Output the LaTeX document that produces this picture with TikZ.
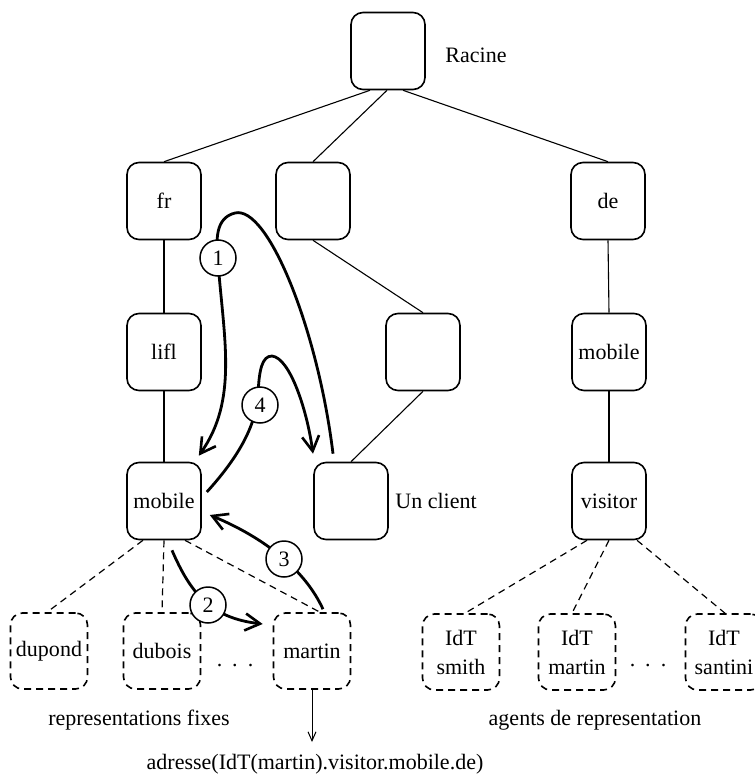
\documentclass[tikz,border=0pt]{standalone}
\usepackage{fontspec}
\setmainfont{Liberation Serif}
\usetikzlibrary{arrows.meta}
\begin{document}
\begin{tikzpicture}[x=1pt,y=-1pt,
  every node/.style={font=\fontsize{22}{29}\selectfont},
  box/.style={draw, line width=1.6pt, rounded corners=12pt, minimum width=74pt,
    minimum height=77pt, inner sep=0pt},
  dbox/.style={box, dash pattern=on 7pt off 5pt, minimum width=77pt,
    minimum height=76pt, align=center},
  edge/.style={line width=1.1pt},
  dedge/.style={line width=1.2pt, dash pattern=on 7pt off 5pt},
  flow/.style={line width=2.8pt,
    -{Straight Barb[length=15pt,width=17pt,line width=2.6pt]}},
  numc/.style={circle, draw, line width=1.5pt, fill=white, minimum size=36pt,
    inner sep=0pt},
  lbl/.style={inner sep=0pt}
]
\useasboundingbox (0,0) rectangle (754,778);

% tree of naming contexts
\node[box] (root) at (388,51) {};
\node[lbl] (racine) at (476,55) {Racine};
\node[box] (fr) at (164,201) {fr};
\node[box] (mid) at (313,201) {};
\node[box] (de) at (608,201) {de};
\node[box] (lifl) at (164,352) {lifl};
\node[box] (rbox) at (423,352) {};
\node[box] (rmob) at (609,352) {mobile};
\node[box] (mob) at (164,501) {mobile};
\node[box] (client) at (351,501) {};
\node[lbl] (clientlbl) at (436,501) {Un client};
\node[box] (visitor) at (609,501) {visitor};

% leaves
\node[dbox] (dupond) at (49,651) {dupond};
\node[dbox] (dubois) at (162,651) {dubois};
\node[dbox] (martin) at (312,651) {martin};
\node[lbl] (dots1) at (235,666) {.\hspace{10pt}.\hspace{10pt}.};
\node[dbox] (smith) at (461,652) {IdT\\smith};
\node[dbox] (idmartin) at (577,652) {IdT\\martin};
\node[lbl] (dots2) at (648,666) {.\hspace{10pt}.\hspace{10pt}.};
\node[dbox] (santini) at (724,652) {IdT\\santini};

\node[lbl] (fixes) at (139,720) {representations fixes};
\node[lbl] (agents) at (595,720) {agents de representation};
\node[lbl] (addr) at (315,764) {adresse(IdT(martin).visitor.mobile.de)};
\coordinate (addrtip) at (312,742);

% solid tree edges
\draw[edge] ([xshift=-18pt]root.south) -- (fr.north);
\draw[edge] ([xshift=-1pt]root.south) -- (mid.north);
\draw[edge] ([xshift=15pt]root.south) -- (de.north);
\draw[edge] (fr.south) -- (lifl.north);
\draw[edge] (lifl.south) -- (mob.north);
\draw[edge] (mid.south) -- (rbox.north);
\draw[edge] (rbox.south) -- (client.north);
\draw[edge] (de.south) -- (rmob.north);
\draw[edge] (rmob.south) -- (visitor.north);

% dashed edges to leaves
\draw[dedge] ([xshift=-21pt]mob.south) -- ([xshift=-2pt]dupond.north);
\draw[dedge] (mob.south) -- (dubois.north);
\draw[dedge] ([xshift=21pt]mob.south) -- ([xshift=8pt]martin.north);
\draw[dedge] ([xshift=-22pt]visitor.south) -- ([xshift=4pt]smith.north);
\draw[dedge] (visitor.south) -- ([xshift=-5pt]idmartin.north);
\draw[dedge] ([xshift=28pt]visitor.south) -- ([xshift=1pt]santini.north);

\draw[line width=1pt, -{Straight Barb[length=9pt,width=8pt,line width=1pt]}]
  (martin.south) -- (addrtip);

% resolution steps
\draw[flow] ([shift={(-18,-8)}]client.north)
  .. controls (318,330) and (268,205) .. (235,213)
  .. controls (215,218) and (216,240) .. (218,262)
  .. controls (224,340) and (238,400) .. ([shift={(-3,-6)}]mob.north east);
\draw[flow] ([shift={(5,-9)}]mob.east)
  .. controls (245,450) and (256,420) .. (258,395)
  .. controls (259,370) and (262,356) .. (272,356)
  .. controls (290,358) and (307,410) .. ([shift={(-38,-8)}]client.north);
\draw[flow] ([shift={(11,-3)}]martin.north)
  .. controls (305,570) and (265,538) .. ([shift={(8,14)}]mob.east);
\draw[flow] ([shift={(8,10)}]mob.south)
  .. controls (190,592) and (210,618) .. ([shift={(-10,-27)}]martin.west);

\node[numc] (n1) at (218,258) {1};
\node[numc] (n4) at (260,405) {4};
\node[numc] (n3) at (284,559) {3};
\node[numc] (n2) at (208,605) {2};
\end{tikzpicture}
\end{document}
